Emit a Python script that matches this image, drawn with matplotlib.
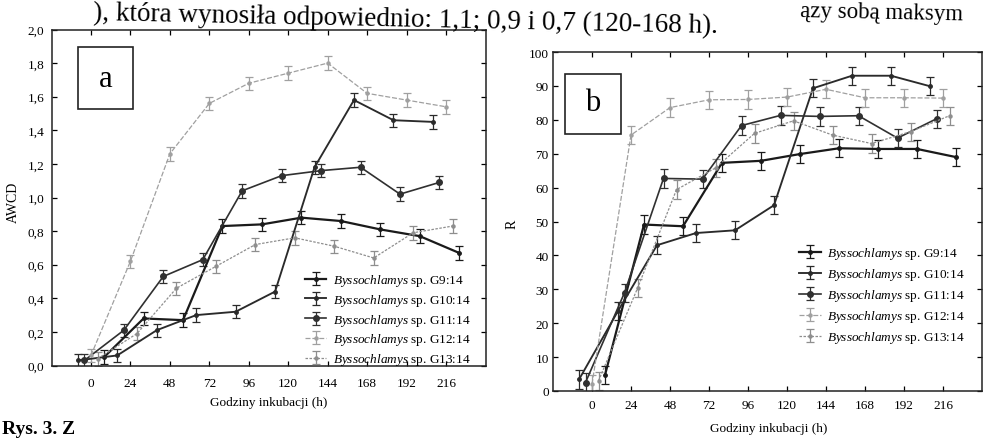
import matplotlib
matplotlib.use('Agg')
import matplotlib.pyplot as plt
from matplotlib.patches import Rectangle
import numpy as np

plt.rcParams['font.family'] = ['Liberation Serif', 'DejaVu Serif']
plt.rcParams['mathtext.fontset'] = 'custom'
plt.rcParams['mathtext.it'] = 'Liberation Serif:italic'
plt.rcParams['mathtext.rm'] = 'Liberation Serif'

# ---------------- data ----------------
hours = [0, 24, 48, 72, 96, 120, 144, 168, 192, 216]
strains = ['G9:14', 'G10:14', 'G11:14', 'G12:14', 'G13:14']
shift_h = [8, -8, -4, 0, 4]          # horizontal offset of each series (h)

awcd_G9 = [0.05, 0.28, 0.27, 0.83, 0.84, 0.88, 0.86, 0.81, 0.77, 0.67]
awcd_G10 = [0.03, 0.06, 0.21, 0.30, 0.32, 0.44, 1.18, 1.58, 1.46, 1.45]
awcd_G11 = [0.03, 0.21, 0.53, 0.63, 1.04, 1.13, 1.16, 1.18, 1.02, 1.09]
awcd_G12 = [0.06, 0.62, 1.26, 1.56, 1.68, 1.74, 1.80, 1.62, 1.58, 1.54]
awcd_G13 = [0.04, 0.19, 0.46, 0.59, 0.72, 0.76, 0.71, 0.64, 0.79, 0.83]
awcd_err = 0.04

r_G9 = [4.7, 49.1, 48.6, 67.3, 67.9, 69.9, 71.6, 71.4, 71.4, 69.0]
r_G10 = [3.4, 23.6, 43.0, 46.6, 47.4, 54.8, 89.3, 93.0, 93.0, 89.9]
r_G11 = [2.5, 29.0, 62.7, 62.5, 78.3, 81.3, 81.0, 81.2, 74.6, 80.3]
r_G12 = [2.0, 75.5, 83.6, 85.9, 86.0, 86.7, 89.0, 86.5, 86.5, 86.4]
r_G13 = [3.0, 30.3, 59.4, 65.8, 76.0, 79.7, 75.5, 73.0, 76.5, 81.2]
r_err = 2.7

awcd = [awcd_G9, awcd_G10, awcd_G11, awcd_G12, awcd_G13]
rich = [r_G9, r_G10, r_G11, r_G12, r_G13]

yticks_a = [0.0, 0.2, 0.4, 0.6, 0.8, 1.0, 1.2, 1.4, 1.6, 1.8, 2.0]
yticks_b = [0, 10, 20, 30, 40, 50, 60, 70, 80, 90, 100]

# ---------------- styles ----------------
colors = ['#1a1a1a', '#2a2a2a', '#303030', '#a0a0a0', '#8e8e8e']
lws = [1.6, 1.35, 1.2, 0.9, 0.9]
lss = ['-', '-', '-', (0, (4, 1.5)), (0, (2, 1.2))]
mss = [2.5, 2.5, 4.0, 2.2, 2.2]

W, H = 984, 439
fig = plt.figure(figsize=(W / 100, H / 100), dpi=100)
fig.patch.set_facecolor('white')


def box(l, t, r, b):
    return [l / W, 1 - b / H, (r - l) / W, (b - t) / H]


axA = fig.add_axes(box(51.5, 30.5, 485.5, 366.5))
axB = fig.add_axes(box(553, 53, 982, 392))


def draw(ax, data, err):
    for i, s in enumerate(strains):
        x = np.array(hours) + shift_h[i]
        ax.errorbar(x, data[i], yerr=err, color=colors[i], lw=lws[i], ls=lss[i],
                    marker='o', ms=mss[i], capsize=2.6, elinewidth=0.9,
                    capthick=0.9, ecolor=colors[i],
                    label=r'$\it{Byssochlamys}$ sp. ' + s)
    ax.set_xlim(-24, 240)
    ax.set_xticks(hours)
    ax.tick_params(direction='in', top=True, right=True, length=3.5,
                   width=0.9, labelsize=9.5)
    for sp in ax.spines.values():
        sp.set_linewidth(1.1)
        sp.set_color('#222222')


draw(axA, awcd, awcd_err)
axA.set_ylim(0, 2.0)
axA.set_yticks(yticks_a)
axA.set_yticklabels([f"{v:.1f}".replace('.', ',') for v in yticks_a])
axA.tick_params(axis='y', pad=5)
axA.tick_params(axis='x', pad=8)
axA.set_xlabel('Godziny inkubacji (h)', fontsize=9.5)
axA.xaxis.set_label_coords(0.5, -0.091)
axA.set_ylabel('AWCD', fontsize=10)
axA.yaxis.set_label_coords(-0.072, 0.487)
axA.legend(loc='lower right', bbox_to_anchor=(0.965, -0.005), frameon=False,
           fontsize=9.5, borderaxespad=0, borderpad=0, handlelength=1.6,
           handletextpad=0.5, labelspacing=0.28)
axA.add_patch(Rectangle((0.062, 0.763), 0.125, 0.185, transform=axA.transAxes,
                        fill=False, lw=1.2, ec='#222222'))
axA.text(0.1245, 0.855, 'a', transform=axA.transAxes, fontsize=22,
         ha='center', va='center')

draw(axB, rich, r_err)
axB.set_ylim(0, 100)
axB.set_yticks(yticks_b)
axB.tick_params(axis='y', pad=3)
axB.tick_params(axis='x', pad=6)
axB.set_xlabel('Godziny inkubacji (h)', fontsize=9.5)
axB.xaxis.set_label_coords(0.503, -0.091)
axB.set_ylabel('R', fontsize=10)
axB.yaxis.set_label_coords(-0.08, 0.494)
axB.legend(loc='lower right', bbox_to_anchor=(0.96, 0.135), frameon=False,
           fontsize=9.5, borderaxespad=0, borderpad=0, handlelength=1.6,
           handletextpad=0.5, labelspacing=0.38)
axB.add_patch(Rectangle((0.028, 0.758), 0.13, 0.177, transform=axB.transAxes,
                        fill=False, lw=1.2, ec='#222222'))
axB.text(0.093, 0.85, 'b', transform=axB.transAxes, fontsize=22,
         ha='center', va='center')

# ---------------- surrounding page text ----------------
fig.text(93 / W, 1 - 20 / H,
         '), która wynosiła odpowiednio: 1,1; 0,9 i 0,7 (120-168 h).',
         fontsize=19.5, ha='left', va='baseline', rotation=-1.2,
         rotation_mode='anchor')
fig.text(800 / W, 1 - 17 / H, 'ązy sobą maksym', fontsize=16.5, ha='left',
         va='baseline', rotation=-1.2, rotation_mode='anchor')
fig.text(2 / W, 1 - 421 / H, 'Rys. 3. Z', fontsize=14, ha='left', va='top',
         fontweight='bold')

fig.savefig('out.png', dpi=100)
